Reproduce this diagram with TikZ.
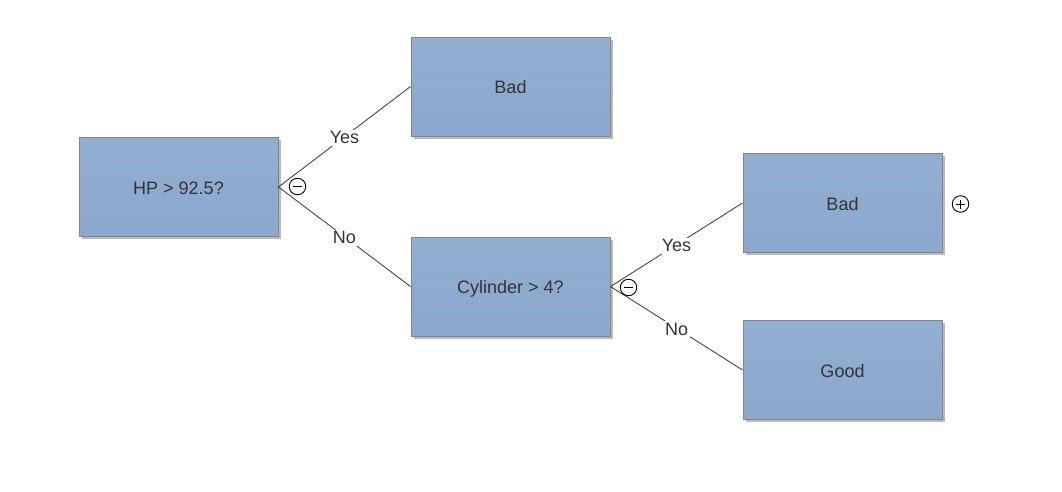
\documentclass[tikz,border=0pt]{standalone}
\usepackage{fontspec}
\setmainfont{Liberation Sans}
\usetikzlibrary{shadows}
\definecolor{boxfill}{HTML}{8CA8CE}
\definecolor{boxtop}{HTML}{91AFD0}
\definecolor{boxline}{HTML}{858585}
\definecolor{txt}{HTML}{333333}
\definecolor{edge}{HTML}{444444}
\tikzset{
  x=1pt, y=-1pt,
  treebox/.style={draw=boxline, line width=1pt, top color=boxtop, bottom color=boxfill,
    minimum width=199pt, minimum height=99pt, inner sep=0pt,
    text height=14pt, text depth=0pt,
    font=\fontsize{18}{21}\selectfont, text=txt,
    drop shadow={shadow xshift=2.5pt, shadow yshift=-2.5pt, opacity=0.45, fill=black!60}},
  edgeline/.style={draw=edge, line width=0.9pt},
  elabel/.style={fill=white, inner sep=1.5pt, font=\fontsize{18}{21}\selectfont, text=txt},
  toggle/.style={circle, draw=black, line width=0.9pt, minimum size=16.5pt, inner sep=0pt}
}
\begin{document}
\begin{tikzpicture}
\useasboundingbox (0,0) rectangle (1062,491);
\node[treebox] (hp) at (178.5,187) {HP > 92.5?};
\node[treebox] (bad1) at (510.5,86.5) {Bad};
\node[treebox] (cyl) at (510.5,286.5) {Cylinder > 4?};
\node[treebox] (bad2) at (842.5,203) {Bad};
\node[treebox] (good) at (842.5,370) {Good};

\path[edgeline] (hp.east) -- node[elabel, pos=0.5, yshift=-1pt] {Yes} (bad1.west);
\path[edgeline] (hp.east) -- node[elabel, pos=0.5, yshift=-1pt] {No} (cyl.west);
\path[edgeline] (cyl.east) -- node[elabel, pos=0.5, yshift=-1pt] {Yes} (bad2.west);
\path[edgeline] (cyl.east) -- node[elabel, pos=0.5, yshift=-1pt] {No} (good.west);

\node[toggle] (m1) at (297.5,186.5) {};
\draw[line width=0.9pt] ([xshift=-4.5pt]m1.center) -- ([xshift=4.5pt]m1.center);
\node[toggle] (m2) at (628.5,287.5) {};
\draw[line width=0.9pt] ([xshift=-4.5pt]m2.center) -- ([xshift=4.5pt]m2.center);
\node[toggle] (p1) at (960.5,204) {};
\draw[line width=0.9pt] ([xshift=-4.5pt]p1.center) -- ([xshift=4.5pt]p1.center);
\draw[line width=0.9pt] ([yshift=-4.5pt]p1.center) -- ([yshift=4.5pt]p1.center);
\end{tikzpicture}
\end{document}
